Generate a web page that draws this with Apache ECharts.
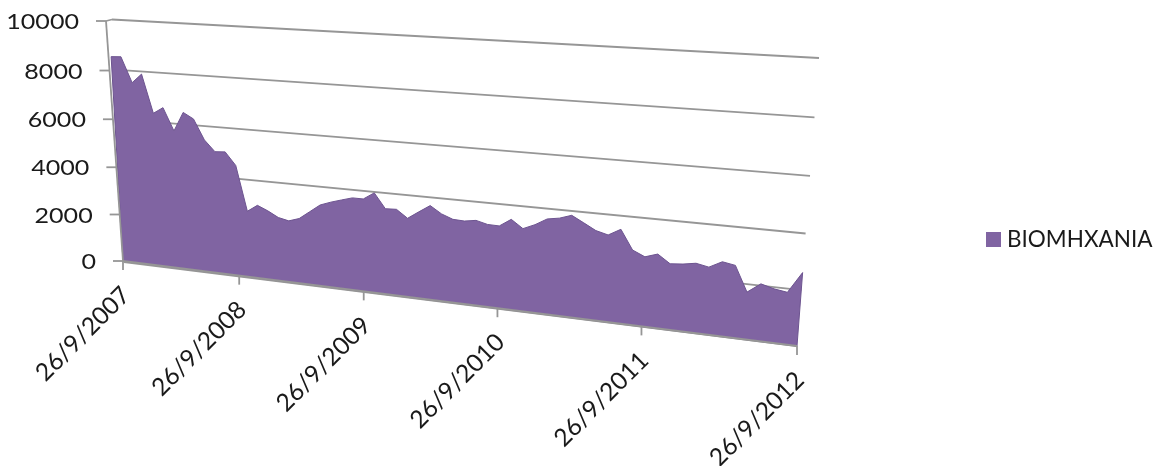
<!DOCTYPE html>
<html>
<head>
<meta charset="utf-8">
<style>html,body{margin:0;padding:0;background:#fff}#c{width:1173px;height:466px}</style>
<script src="https://cdn.jsdelivr.net/npm/echarts@6/dist/echarts.min.js"></script>
</head>
<body>
<div id="c"></div>
<script>
const seriesName = 'BIOMHXANIA';
const values = [8530,8550,7530,7905,6350,6610,5700,6480,6250,5440,5000,5030,4520,2705,2990,2810,2585,2495,2635,2950,3265,3420,3550,3675,3675,3955,3380,3400,3095,3390,3675,3400,3235,3215,3285,3175,3165,3460,3155,3350,3610,3685,3835,3600,3360,3245,3500,2785,2585,2735,2430,2470,2550,2460,2705,2625,1715,2065,1940,1870,2625];
const yTicks = [0,2000,4000,6000,8000,10000];
const xTickLabels = ['26/9/2007','26/9/2008','26/9/2009','26/9/2010','26/9/2011','26/9/2012'];
const monthsPerTick = 12;

const categories = values.map((_, i) => {
  const m = 8 + i;
  return '26/' + (m % 12 + 1) + '/' + (2007 + Math.floor(m / 12));
});

// Perspective wall (Excel 3-D look): applied on top of the library's own scales.
const GRID = {left: 100, top: 20, width: 700, height: 240};
const AREA_PLANE = {bl:[123,261], tl:[109,20], br:[797,346], tr:[819,58]};
const WALL_PLANE = {bl:[124,262], tl:[112,19.5], br:[797,346], tr:[819,58]};
const AXIS_PLANE = {bl:[123,261], tl:[106,21], br:[797,346], tr:[819,58]};
const NEAR_X = 1.2, NEAR_Y = 1.04;
const LINE = '#969696', FONT = 'Lato, "Open Sans", sans-serif', TEXT = '#1a1a1a', FILL = '#8064A2';

function warp(api, plane, xv, yv) {
  const p = api.coord([xv, yv]);
  const u = (p[0] - GRID.left) / GRID.width;
  const w0 = (GRID.top + GRID.height - p[1]) / GRID.height;
  const w = w0 / (NEAR_Y - (NEAR_Y - 1) * w0);
  const f = u / (NEAR_X - (NEAR_X - 1) * u);
  const lx = plane.bl[0] + (plane.tl[0] - plane.bl[0]) * w, ly = plane.bl[1] + (plane.tl[1] - plane.bl[1]) * w;
  const rx = plane.br[0] + (plane.tr[0] - plane.br[0]) * w, ry = plane.br[1] + (plane.tr[1] - plane.br[1]) * w;
  return [lx + (rx - lx) * f, ly + (ry - ly) * f];
}
function seg(a, b, width) {
  return {type:'line', shape:{x1:a[0],y1:a[1],x2:b[0],y2:b[1]}, style:{stroke:LINE, lineWidth:width||1.8, fill:null}};
}
const last = values.length - 1;

const option = {
  animation: false,
  backgroundColor: '#fff',
  grid: GRID,
  xAxis: {type:'category', data:categories, boundaryGap:false, show:false},
  yAxis: {type:'value', min:0, max:10000, interval:2000, show:false},
  legend: {
    data:[{name:seriesName, icon:'rect'}], orient:'vertical', left:981, top:223,
    itemWidth:15, itemHeight:15, itemGap:0, selectedMode:false,
    textStyle:{fontFamily:FONT, fontSize:22.5, color:TEXT, padding:[0,0,0,1]}
  },
  series: [
    { // gridlines on the back wall
      type:'custom', name:'grid', silent:true, data:yTicks.map(v => [0, v]),
      renderItem(params, api) {
        const v = api.value(1);
        const children = [seg(warp(api, WALL_PLANE, 0, v), warp(api, WALL_PLANE, last, v))];
        if (v === yTicks[yTicks.length - 1]) children.push(seg(warp(api, AXIS_PLANE, 0, v), warp(api, WALL_PLANE, 0, v)));
        return {type:'group', children};
      }
    },
    { // the area
      type:'custom', name:seriesName, silent:true, itemStyle:{color:FILL},
      data:values.map((v, i) => [i, v]),
      renderItem(params, api) {
        if (params.dataIndex !== 0) return null;
        const pts = [warp(api, AREA_PLANE, 0, 0)];
        values.forEach((v, i) => pts.push(warp(api, AREA_PLANE, i, v)));
        pts.push(warp(api, AREA_PLANE, last, 0));
        return {type:'polygon', shape:{points:pts}, style:{fill:FILL, stroke:'#6d5490', lineWidth:1, lineJoin:'round'}};
      }
    },
    { // value axis: tilted line, ticks, labels
      type:'custom', name:'yaxis', silent:true, data:yTicks.map(v => [0, v]),
      renderItem(params, api) {
        const v = api.value(1);
        const p = warp(api, AXIS_PLANE, 0, v);
        const children = [
          seg([p[0] - 10, p[1]], p),
          {type:'text', x:p[0] - 27, y:p[1] + 1, scaleX:1.14,
           style:{text:String(v), x:0, y:0, textAlign:'right', textVerticalAlign:'middle', fill:TEXT, font:'22px ' + FONT}}
        ];
        if (params.dataIndex === 0) children.push(seg(p, warp(api, AXIS_PLANE, 0, yTicks[yTicks.length - 1])));
        return {type:'group', children};
      }
    },
    { // category axis: tilted line, ticks, rotated labels
      type:'custom', name:'xaxis', silent:true, data:xTickLabels.map((s, i) => [i * monthsPerTick, 0]),
      renderItem(params, api) {
        const p = warp(api, AXIS_PLANE, api.value(0), 0);
        const children = [
          seg(p, [p[0], p[1] + 9]),
          {type:'text', x:p[0] + 3, y:p[1] + 30, rotation:Math.PI / 4,
           style:{text:xTickLabels[params.dataIndex], x:0, y:0, textAlign:'right', textVerticalAlign:'middle', fill:TEXT, font:'24.5px ' + FONT}}
        ];
        if (params.dataIndex === 0) children.push(seg(p, warp(api, AXIS_PLANE, last, 0)));
        return {type:'group', children};
      }
    }
  ]
};
echarts.init(document.getElementById('c'), null, {renderer:'canvas'}).setOption(option);
</script>
</body>
</html>
